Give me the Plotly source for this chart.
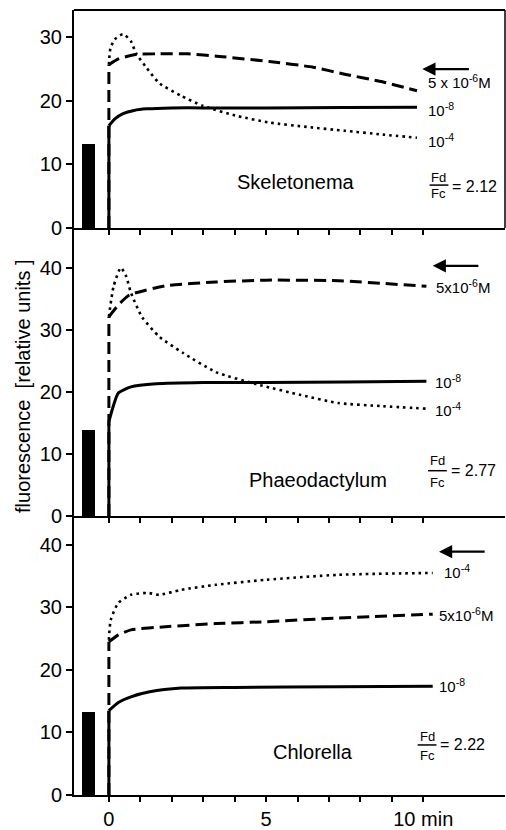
import plotly.graph_objects as go

# ---------------- data ----------------
# Skeletonema
t1_solid = [0, 0.2, 0.45, 0.8, 1.2, 2, 3, 5, 7.5, 9.8]
y1_solid = [16.1, 17.2, 18.0, 18.5, 18.75, 18.9, 18.9, 18.9, 18.95, 19.0]
t1_dash = [0, 0.3, 0.86, 1.5, 2.5, 3.5, 5.1, 6.5, 7.5, 8.7, 9.8]
y1_dash = [25.7, 26.6, 27.3, 27.4, 27.4, 27.0, 26.2, 25.3, 24.2, 23.0, 21.6]
t1_dot = [0, 0.05, 0.19, 0.45, 0.7, 0.86, 1.2, 1.6, 2.3, 3.0, 4.1, 5.1, 6.3, 7.5, 8.7, 9.8]
y1_dot = [25.7, 28.3, 29.7, 30.5, 29.4, 27.5, 25.2, 22.8, 20.8, 19.2, 17.6, 16.6, 15.9, 15.3, 14.7, 14.2]

# Phaeodactylum
t2_solid = [0, 0.3, 0.7, 1.5, 3, 5, 7.5, 10.1]
y2_solid = [15.2, 19.8, 20.8, 21.3, 21.5, 21.5, 21.6, 21.7]
t2_dash = [0, 0.3, 0.65, 1.8, 3.4, 5, 7.3, 10.1]
y2_dash = [32.1, 34.0, 35.6, 37.1, 37.7, 38.0, 37.9, 37.0]
t2_dot = [0, 0.15, 0.38, 0.55, 0.7, 1.05, 1.6, 2.35, 3.4, 4.8, 6.1, 7.3, 8.7, 10.1]
y2_dot = [32.1, 37.0, 40.0, 38.6, 36.0, 32.1, 28.9, 26.3, 23.2, 21.1, 19.5, 18.2, 17.7, 17.3]

# Chlorella
t3_solid = [0, 0.3, 0.7, 1.3, 2.3, 4, 7.3, 10.3]
y3_solid = [13.5, 14.8, 15.7, 16.5, 17.1, 17.2, 17.3, 17.4]
t3_dash = [0, 0.3, 0.7, 1.8, 3.4, 5, 7.3, 10.3]
y3_dash = [24.5, 25.6, 26.4, 26.9, 27.4, 27.7, 28.3, 28.9]
t3_dot = [0, 0.06, 0.3, 0.7, 1.25, 1.6, 2.3, 3.4, 5, 7.3, 10.3]
y3_dot = [24.8, 28.0, 30.7, 32.0, 32.3, 32.0, 32.8, 33.6, 34.4, 35.2, 35.5]

# dark-level bars (before illumination)
bar_t = [-0.65]
bar_values = [13.2, 13.8, 13.2]

species = ["Skeletonema", "Phaeodactylum", "Chlorella"]
ratios = ["2.12", "2.77", "2.22"]
x_ticks = [0, 1, 2, 3, 4, 5, 6, 7, 8, 9, 10]
x_ticktext = ["0", "", "", "", "", "5", "", "", "", "", "10 min"]
y_ticks_top = [0, 10, 20, 30]
y_ticks = [0, 10, 20, 30, 40]

# ---------------- figure ----------------
FONT = "Liberation Sans"
fig = go.Figure()

panels = [
    (t1_solid, y1_solid, t1_dash, y1_dash, t1_dot, y1_dot),
    (t2_solid, y2_solid, t2_dash, y2_dash, t2_dot, y2_dot),
    (t3_solid, y3_solid, t3_dash, y3_dash, t3_dot, y3_dot),
]
axes = [("x", "y"), ("x2", "y2"), ("x3", "y3")]

DOT = dict(color="black", width=2.6, dash="2.6px,4px")
DASH = dict(color="black", width=3, dash="12px,6px")
SOLID = dict(color="black", width=3)

for i, (ts, ys, td, yd, tt, yt) in enumerate(panels):
    xa, ya = axes[i]
    fig.add_trace(go.Bar(x=bar_t, y=[bar_values[i]], width=0.42, marker=dict(color="black", line=dict(width=0)),
                         xaxis=xa, yaxis=ya, showlegend=False))
    # vertical onset segments at illumination start
    fig.add_trace(go.Scatter(x=[td[0], td[0]], y=[0, yd[0]], mode="lines", line=DASH,
                             xaxis=xa, yaxis=ya, showlegend=False))
    fig.add_trace(go.Scatter(x=[ts[0], ts[0]], y=[0, ys[0]], mode="lines", line=SOLID,
                             xaxis=xa, yaxis=ya, showlegend=False))
    # kinetics
    fig.add_trace(go.Scatter(x=tt, y=yt, mode="lines", line=dict(**DOT, shape="spline", smoothing=0.6),
                             xaxis=xa, yaxis=ya, showlegend=False))
    fig.add_trace(go.Scatter(x=td, y=yd, mode="lines", line=dict(**DASH, shape="spline", smoothing=0.5),
                             xaxis=xa, yaxis=ya, showlegend=False))
    fig.add_trace(go.Scatter(x=ts, y=ys, mode="lines", line=dict(**SOLID, shape="spline", smoothing=0.5),
                             xaxis=xa, yaxis=ya, showlegend=False))

# domains (paper fractions)
d3 = [0.0, 0.3554]
d2 = [0.3554, 0.7223]
d1 = [0.7223, 1.0]
xrange_ = [-1.11, 12.6]

axis_common = dict(showline=True, linecolor="black", linewidth=2, ticks="outside", tickcolor="black",
                   tickwidth=2, showgrid=False, zeroline=False,
                   tickfont=dict(family=FONT, size=20, color="black"))

fig.update_layout(
    width=506, height=830,
    margin=dict(l=74, r=1, t=10, b=35),
    plot_bgcolor="white", paper_bgcolor="white",
    bargap=0,
    xaxis=dict(domain=[0, 1], range=xrange_, anchor="y", tickvals=x_ticks, showticklabels=False, ticklen=5, **axis_common),
    xaxis2=dict(domain=[0, 1], range=xrange_, anchor="y2", tickvals=x_ticks, showticklabels=False, ticklen=5, **axis_common),
    xaxis3=dict(domain=[0, 1], range=xrange_, anchor="y3", tickvals=x_ticks, ticktext=x_ticktext, ticklen=5, **axis_common),
    yaxis=dict(domain=d1, range=[0, 34.3], anchor="x", tickvals=y_ticks_top, ticklen=6, **axis_common),
    yaxis2=dict(domain=d2, range=[0, 46.4], anchor="x2", tickvals=y_ticks, ticklen=6, **axis_common),
    yaxis3=dict(domain=d3, range=[0, 44.6], anchor="x3", tickvals=y_ticks, ticklen=6, **axis_common),
)

# top panel frame (top and right edges)
fig.add_shape(type="line", xref="x domain", yref="y domain", x0=0, x1=1, y0=1, y1=1,
              line=dict(color="black", width=2))
fig.add_shape(type="line", xref="x domain", yref="y domain", x0=1, x1=1, y0=0, y1=1,
              line=dict(color="black", width=1.5))

ann = []

def text(xa, ya, x, y, s, size=15, xanchor="left"):
    ann.append(dict(xref=xa, yref=ya, x=x, y=y, text=s, showarrow=False, xanchor=xanchor,
                    yanchor="middle", font=dict(family=FONT, size=size, color="black")))

# series labels
text("x", "y", 10.1, 23.0, "5 x 10<sup>-6</sup>M")
text("x", "y", 10.1, 18.6, "10<sup>-8</sup>")
text("x", "y", 10.1, 13.7, "10<sup>-4</sup>")
text("x2", "y2", 10.35, 37.0, "5x10<sup>-6</sup>M")
text("x2", "y2", 10.3, 21.7, "10<sup>-8</sup>")
text("x2", "y2", 10.3, 17.1, "10<sup>-4</sup>")
text("x3", "y3", 10.6, 35.7, "10<sup>-4</sup>")
text("x3", "y3", 10.45, 28.8, "5x10<sup>-6</sup>M")
text("x3", "y3", 10.45, 17.5, "10<sup>-8</sup>")

# species names
text("x", "y", 5.96, 7.2, species[0], size=20, xanchor="center")
text("x2", "y2", 6.66, 5.8, species[1], size=20, xanchor="center")
text("x3", "y3", 6.5, 6.9, species[2], size=20, xanchor="center")

# Fd/Fc ratios
frac = [("x", "y", 10.5, 8.0, 5.4, 6.75, 6.5),
        ("x2", "y2", 10.45, 8.95, 5.4, 7.3, 7.4),
        ("x3", "y3", 10.12, 9.4, 6.3, 8.0, 8.0)]
for i, (xa, ya, xc, yfd, yfc, yline, yeq) in enumerate(frac):
    text(xa, ya, xc, yfd, "Fd", size=13, xanchor="center")
    text(xa, ya, xc, yfc, "Fc", size=13, xanchor="center")
    fig.add_shape(type="line", xref=xa, yref=ya, x0=xc - 0.3, x1=xc + 0.3, y0=yline, y1=yline,
                  line=dict(color="black", width=1.5))
    text(xa, ya, xc + 0.36, yeq, "= " + ratios[i], size=16)

# arrows
arrows = [("x", "y", 9.97, 11.5, 25.0), ("x2", "y2", 10.3, 11.8, 40.3), ("x3", "y3", 10.5, 12.0, 38.9)]
for xa, ya, xh, xt, yv in arrows:
    ann.append(dict(xref=xa, yref=ya, axref=xa, ayref=ya, x=xh, y=yv, ax=xt, ay=yv, text="",
                    showarrow=True, arrowhead=2, arrowsize=1.2, arrowwidth=2.2, arrowcolor="black"))

# y-axis title
ann.append(dict(xref="paper", yref="paper", x=-0.118, y=0.52, text="fluorescence  [relative units ]",
                showarrow=False, textangle=-90, xanchor="center", yanchor="middle",
                font=dict(family=FONT, size=20, color="black")))

fig.update_layout(annotations=ann)
fig.write_html("out.html")
